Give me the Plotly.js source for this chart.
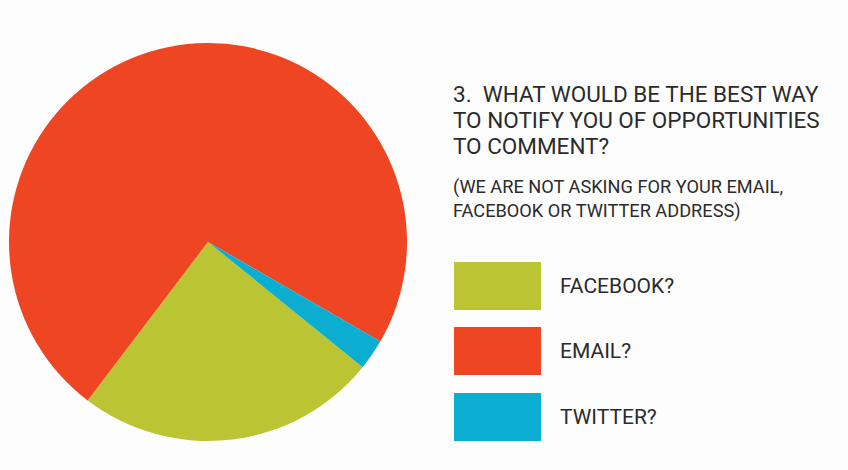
<!DOCTYPE html>
<html>
<head>
<meta charset="utf-8">
<script src="https://cdn.plot.ly/plotly-3.0.1.min.js"></script>
<style>
html,body{margin:0;padding:0;background:#fdfdfd;}
#chart{width:848px;height:470px;}
</style>
</head>
<body>
<div id="chart"></div>
<script>
var categories = ["FACEBOOK?", "EMAIL?", "TWITTER?"];
var values = [24.5, 73, 2.5];
var colors = ["#bbc534", "#ee4623", "#0badd0"];
var titleLines = ["3.  WHAT WOULD BE THE BEST WAY", "TO NOTIFY YOU OF OPPORTUNITIES", "TO COMMENT?"];
var subtitleLines = ["(WE ARE NOT ASKING FOR YOUR EMAIL,", "FACEBOOK OR TWITTER ADDRESS)"];

var W = 848, H = 470;
function px(x){return x/W;}
function py(y){return 1 - y/H;}
var FONT = "Roboto, Liberation Sans, sans-serif";
var TXT = "#2b2b2b";

var trace = {
  type: "pie",
  labels: categories,
  values: values,
  sort: false,
  direction: "clockwise",
  rotation: 129,
  marker: {colors: colors, line: {width: 0}},
  textinfo: "none",
  hoverinfo: "label+percent",
  showlegend: false,
  domain: {x: [px(9), px(407)], y: [py(441), py(43)]}
};

var shapes = [];
var annotations = [];
var boxTop = [262, 327, 393];
for (var i = 0; i < categories.length; i++) {
  shapes.push({type: "rect", xref: "paper", yref: "paper",
    x0: px(454), x1: px(541), y0: py(boxTop[i] + 48), y1: py(boxTop[i]),
    fillcolor: colors[i], line: {width: 0}});
  annotations.push({xref: "paper", yref: "paper", x: px(558), y: py(boxTop[i] + 24),
    xanchor: "left", yanchor: "middle", showarrow: false, text: categories[i],
    font: {family: FONT, size: 21, color: TXT}});
}
var titleMid = [94, 120, 146];
for (var j = 0; j < titleLines.length; j++) {
  annotations.push({xref: "paper", yref: "paper", x: px(451), y: py(titleMid[j]),
    xanchor: "left", yanchor: "middle", align: "left", showarrow: false,
    text: titleLines[j], font: {family: FONT, size: 22.5, color: TXT}});
}
var subMid = [187, 211];
for (var k = 0; k < subtitleLines.length; k++) {
  annotations.push({xref: "paper", yref: "paper", x: px(451), y: py(subMid[k]),
    xanchor: "left", yanchor: "middle", align: "left", showarrow: false,
    text: subtitleLines[k], font: {family: FONT, size: 18.2, color: TXT}});
}

var layout = {
  width: W, height: H,
  margin: {l: 0, r: 0, t: 0, b: 0},
  paper_bgcolor: "#fdfdfd",
  plot_bgcolor: "#fdfdfd",
  shapes: shapes,
  annotations: annotations,
  showlegend: false
};

Plotly.newPlot("chart", [trace], layout, {displayModeBar: false, staticPlot: true});
</script>
</body>
</html>
